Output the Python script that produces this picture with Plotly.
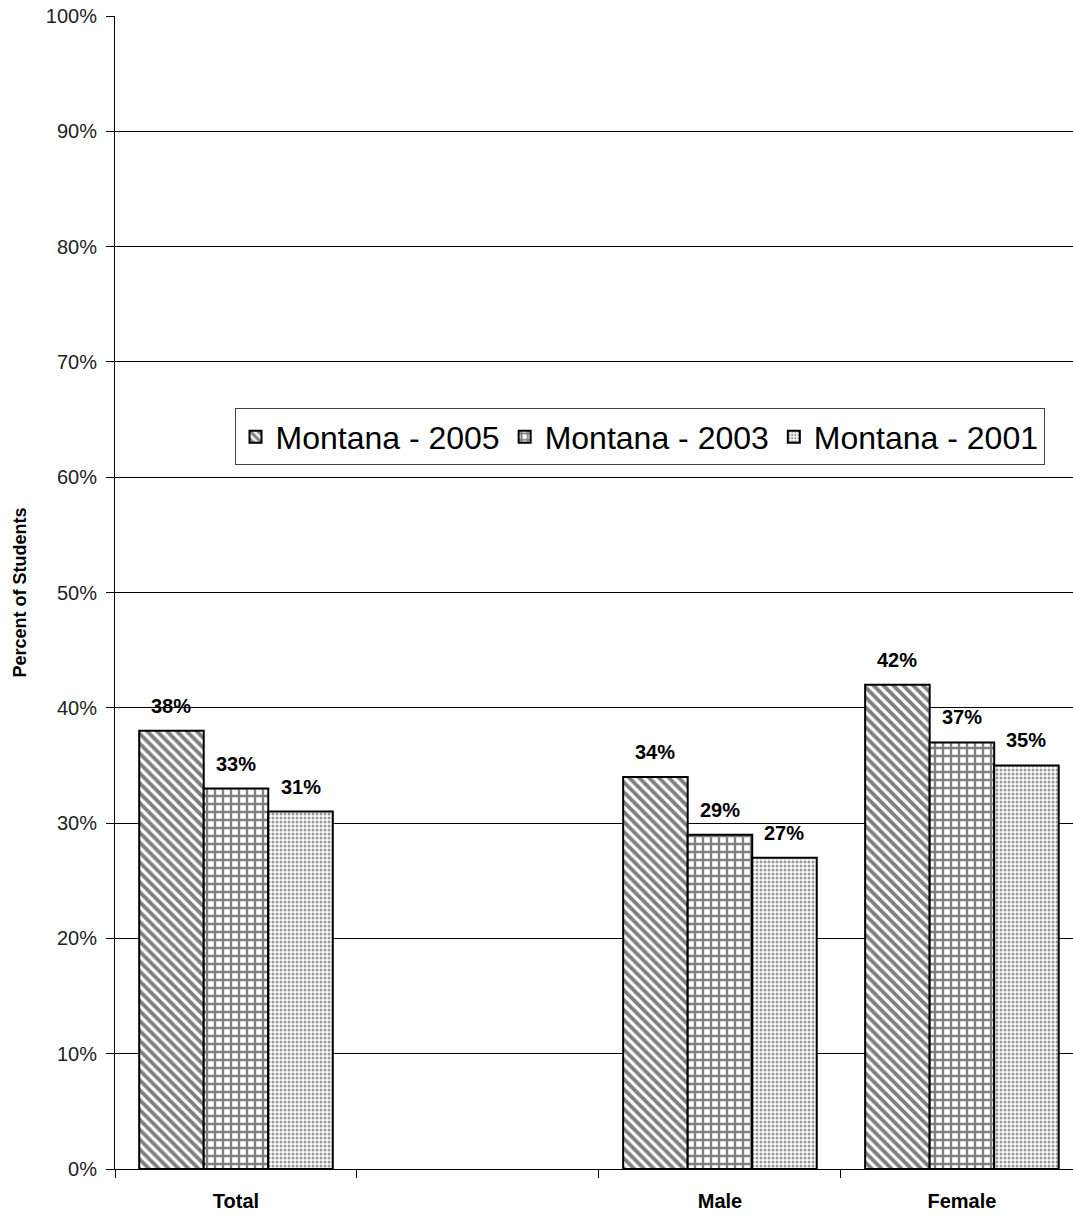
import plotly.graph_objects as go

categories = ["Total", " ", "Male", "Female"]
series_names = ["Montana - 2005", "Montana - 2003", "Montana - 2001"]
values_2005 = [38, None, 34, 42]
values_2003 = [33, None, 29, 37]
values_2001 = [31, None, 27, 35]
all_values = [values_2005, values_2003, values_2001]
y_ticks = list(range(0, 101, 10))
y_tick_labels = [f"{t}%" for t in y_ticks]

FONT = "Arial, Liberation Sans, sans-serif"
patterns = [
    dict(shape="\\", fgcolor="black", bgcolor="white", size=7, solidity=0.55),
    dict(shape="+", fgcolor="black", bgcolor="white", size=8, solidity=0.5),
    dict(shape=".", fgcolor="#333333", bgcolor="white", size=4, solidity=0.45),
]

fig = go.Figure()
for name, vals, pat in zip(series_names, all_values, patterns):
    fig.add_trace(go.Bar(
        x=categories, y=vals, name=name,
        marker=dict(color="white", pattern=pat, line=dict(color="black", width=2)),
    ))

bargap = 0.2
n = len(all_values)
bw = (1 - bargap) / n
annotations = []
for i, vals in enumerate(all_values):
    for j, v in enumerate(vals):
        if v is None:
            continue
        annotations.append(dict(
            x=j + (i - (n - 1) / 2) * bw, y=v, xref="x", yref="y",
            text=f"<b>{v}%</b>", showarrow=False, yanchor="bottom", yshift=12,
            font=dict(family=FONT, size=20, color="black"),
        ))

fig.update_layout(
    width=1073, height=1215,
    margin=dict(l=115, r=0, t=16, b=46),
    paper_bgcolor="white", plot_bgcolor="white",
    barmode="group", bargap=bargap, bargroupgap=0,
    font=dict(family=FONT, color="black"),
    annotations=annotations,
    legend=dict(
        orientation="h", x=0.5475, y=0.635, xanchor="center", yanchor="middle",
        bordercolor="#444444", borderwidth=1, bgcolor="white",
        font=dict(family=FONT, size=32, color="black"),
        traceorder="normal", itemwidth=30,
    ),
    showlegend=True,
)
fig.update_xaxes(
    range=[-0.5, 3.459], showgrid=False, showline=True, linecolor="black", linewidth=1,
    ticks="outside", tickson="boundaries", ticklen=8, tickcolor="black",
    tickfont=dict(family=FONT, size=20, color="black"), ticklabelstandoff=14,
    tickvals=categories, ticktext=[f"<b>{c}</b>" for c in categories],
)
fig.update_yaxes(
    range=[0, 100], tickvals=y_ticks, ticktext=y_tick_labels,
    showgrid=True, gridcolor="black", gridwidth=1,
    showline=True, linecolor="black", linewidth=1,
    ticks="outside", ticklen=8, tickcolor="black",
    tickfont=dict(family=FONT, size=20, color="#222222"), ticklabelstandoff=5,
    title=dict(text="<b>Percent of Students</b>", font=dict(family=FONT, size=18, color="black"), standoff=14),
    zeroline=False,
)
fig.write_html(
    "out.html",
    config={"displayModeBar": False},
    post_script="document.body.style.margin='0';document.body.style.overflow='hidden';",
)
